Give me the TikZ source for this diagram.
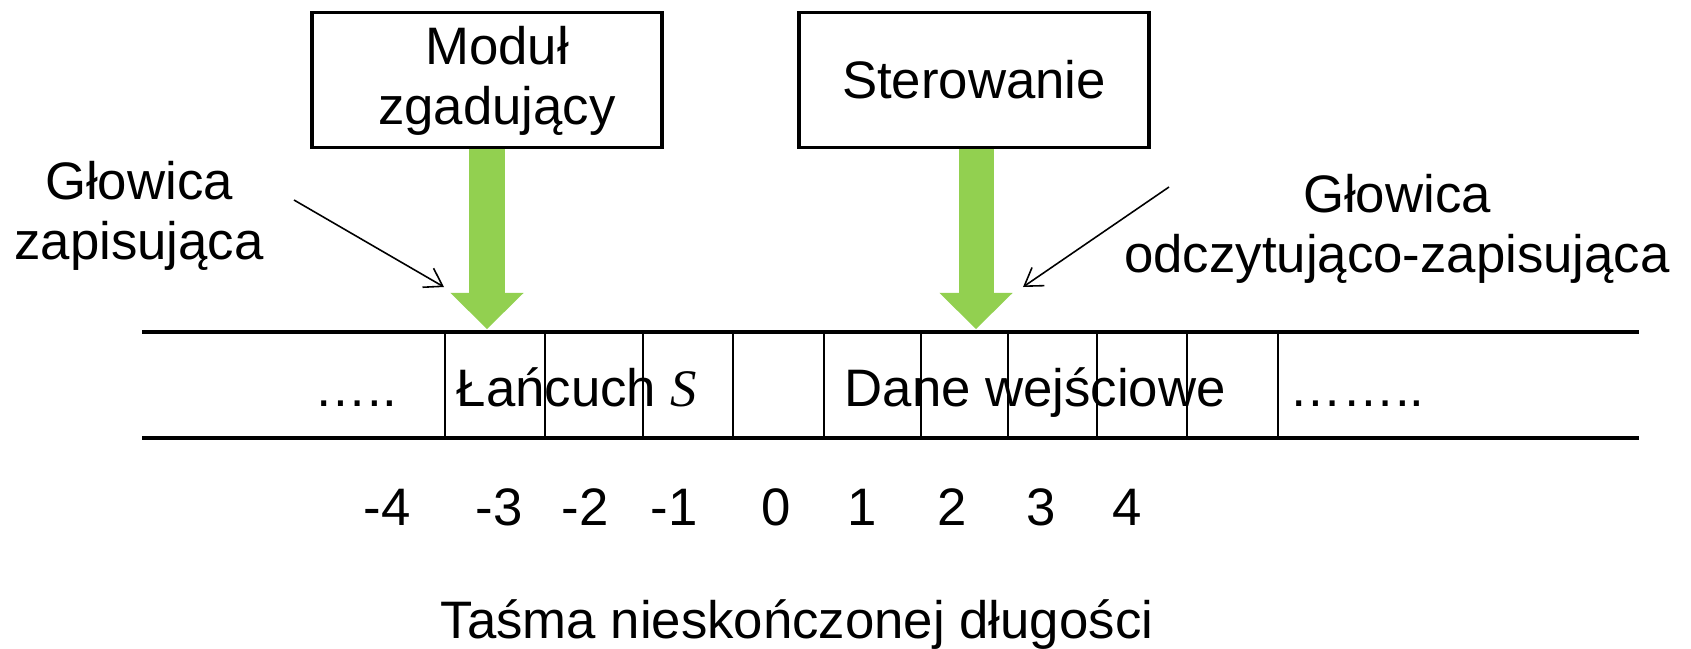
\documentclass[tikz,border=0pt]{standalone}
\usepackage{fontspec}
\setmainfont{Liberation Sans}
\newfontfamily\serfam{Liberation Serif}
\usetikzlibrary{arrows.meta}
\definecolor{arrowgreen}{HTML}{92D050}
\begin{document}
\begin{tikzpicture}[x=0.01cm,y=-0.01cm,
  every node/.style={font=\fontsize{15}{17}\selectfont, inner sep=0pt},
  box/.style={draw, line width=1.1pt, line join=miter, minimum width=3.5cm, minimum height=1.35cm},
  tapeline/.style={line width=0.95pt},
  cellline/.style={line width=0.75pt},
  pointer/.style={line width=0.45pt, -{Straight Barb[length=1.7mm,width=2.2mm]}},
  feed/.style={arrowgreen, line width=3.5mm, -{Triangle[length=3.6mm,width=7.3mm,line width=0pt]}},
  lbl/.style={align=center}
]
\useasboundingbox (0,0) rectangle (1691,648);

% boxes
\node[box] (mod) at (487,80) {};
\node[lbl] (modtxt) at (497,81) {Moduł\\zgadujący};
\node[box] (ster) at (974,80) {Sterowanie};

% tape
\coordinate (tl) at (142,332);
\coordinate (tr) at (1639,332);
\coordinate (bl) at (142,438);
\coordinate (br) at (1639,438);
\draw[tapeline] (tl) -- (tr);
\draw[tapeline] (bl) -- (br);
\foreach \x in {445,545,643,733,824,921,1008,1097,1187,1278}
  \draw[cellline] (\x,332) -- (\x,438);

% green arrows
\coordinate (h1) at (487,329);
\coordinate (h2) at (976,329);
\draw[feed] (mod.south) -- (h1);
\draw[feed] (ster.south -| h2) -- (h2);

% labels
\node[lbl] (gl) at (139,216) {Głowica\\zapisująca};
\node[lbl] (gr) at (1397,229) {Głowica\\odczytująco-zapisująca};

% pointers
\coordinate (p1s) at (294,200);
\coordinate (p1e) at (444,287);
\coordinate (p2s) at (1169,187);
\coordinate (p2e) at (1023,287);
\draw[pointer] (p1s) -- (p1e);
\draw[pointer] (p2s) -- (p2e);

% tape contents
\node[anchor=base] (dl) at (356,406) {…..};
\node[anchor=base west] (lan) at (456,406) {Łańcuch {\serfam\itshape S}};
\node[anchor=base west] (dane) at (844,406) {Dane wejściowe};
\node[anchor=base] (dr) at (1357,406) {……..};

% indices
\foreach \n/\x/\t in {m4/387/-4, m3/499/-3, m2/585/-2, m1/674/-1, z0/776/0, q1/862/1, q2/952/2, q3/1041/3, q4/1127/4}
  \node[anchor=base] (n\n) at (\x,525) {\t};

\node[anchor=base] (title) at (797,638) {Taśma nieskończonej długości};
\end{tikzpicture}
\end{document}
